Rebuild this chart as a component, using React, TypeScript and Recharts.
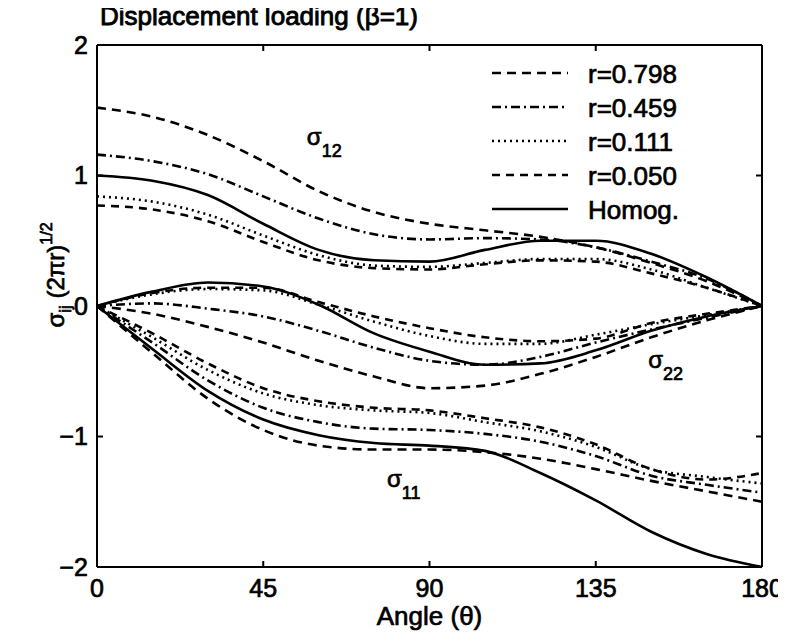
import { LineChart, Line, XAxis, YAxis, ReferenceDot, Legend } from "recharts";

// angle (deg) and sigma_ij * sqrt(2*pi*r)
const theta = [0, 15, 30, 45, 60, 75, 90, 105, 120, 135, 150, 165, 180];

const s12R798 = [1.52, 1.45, 1.31, 1.11, 0.88, 0.72, 0.63, 0.58, 0.53, 0.45, 0.33, 0.19, 0];
const s12R459 = [1.16, 1.11, 1.01, 0.84, 0.67, 0.55, 0.51, 0.52, 0.51, 0.45, 0.34, 0.21, 0];
const s12R111 = [0.84, 0.8, 0.7, 0.54, 0.39, 0.31, 0.3, 0.33, 0.36, 0.36, 0.28, 0.14, 0];
const s12R050 = [0.77, 0.74, 0.65, 0.49, 0.35, 0.29, 0.28, 0.32, 0.35, 0.34, 0.25, 0.14, 0];
const s12Hom = [1.0, 0.96, 0.85, 0.63, 0.43, 0.35, 0.34, 0.43, 0.5, 0.5, 0.4, 0.22, 0];

const s22R798 = [0, -0.06, -0.16, -0.28, -0.42, -0.54, -0.63, -0.61, -0.52, -0.39, -0.24, -0.11, 0];
const s22R459 = [0, 0.02, -0.02, -0.08, -0.19, -0.32, -0.42, -0.45, -0.39, -0.28, -0.18, -0.09, 0];
const s22R111 = [0, 0.09, 0.13, 0.12, 0.01, -0.12, -0.23, -0.29, -0.29, -0.22, -0.14, -0.07, 0];
const s22R050 = [0, 0.1, 0.14, 0.14, 0.03, -0.08, -0.17, -0.24, -0.27, -0.25, -0.13, -0.06, 0];
const s22Hom = [0, 0.11, 0.18, 0.15, 0.01, -0.21, -0.35, -0.45, -0.44, -0.34, -0.19, -0.08, 0];

const s11R798 = [0, -0.36, -0.71, -0.95, -1.07, -1.1, -1.1, -1.12, -1.17, -1.25, -1.34, -1.42, -1.5];
const s11R459 = [0, -0.28, -0.57, -0.78, -0.89, -0.94, -0.95, -0.98, -1.04, -1.15, -1.3, -1.37, -1.43];
const s11R111 = [0, -0.24, -0.49, -0.67, -0.76, -0.8, -0.82, -0.89, -0.96, -1.08, -1.25, -1.31, -1.36];
const s11R050 = [0, -0.21, -0.44, -0.63, -0.73, -0.78, -0.8, -0.86, -0.93, -1.06, -1.25, -1.33, -1.28];
const s11Hom = [0, -0.33, -0.65, -0.87, -0.99, -1.05, -1.07, -1.11, -1.28, -1.49, -1.73, -1.9, -2.0];

const caseNames = ["r=0.798", "r=0.459", "r=0.111", "r=0.050", "Homog."];
const xTicks = [0, 45, 90, 135, 180];
const yTicks = [-2, -1, 0, 1, 2];

const groups = [
  { id: "s12", values: [s12R798, s12R459, s12R111, s12R050, s12Hom] },
  { id: "s22", values: [s22R798, s22R459, s22R111, s22R050, s22Hom] },
  { id: "s11", values: [s11R798, s11R459, s11R111, s11R050, s11Hom] },
];

const dashes = ["9 6", "9 4 2 4", "2 4", "8 6", undefined];
const FONT = "'Liberation Sans', Arial, Helvetica, sans-serif";
const ink = { fill: "#000", stroke: "#000", strokeWidth: 0.7 };

const data = theta.map((t, i) => {
  const row: Record<string, number> = { theta: t };
  groups.forEach((g) => g.values.forEach((v, j) => (row[`${g.id}_${j}`] = v[i])));
  return row;
});

function SigmaTag({ viewBox, sub }: any) {
  if (!viewBox) return null;
  return (
    <text x={viewBox.x} y={viewBox.y} fontSize={24} {...ink}>
      σ
      <tspan dy={12} fontSize={18}>
        {sub}
      </tspan>
    </text>
  );
}

function LegendBox() {
  return (
    <svg width={220} height={170} style={{ fontFamily: FONT }}>
      {caseNames.map((name, i) => {
        const y = 15 + i * 34;
        return (
          <g key={name}>
            <line x1={0} x2={76} y1={y} y2={y} stroke="#000" strokeWidth={2.6} strokeDasharray={dashes[i]} />
            <text x={96} y={y + 10} fontSize={26} {...ink}>
              {name}
            </text>
          </g>
        );
      })}
    </svg>
  );
}

const minus = (v: number) => (v < 0 ? `−${Math.abs(v)}` : String(v));
const noTick = () => <g />;

export default function App() {
  return (
    <div style={{ width: 778, height: 634, marginTop: -8, fontFamily: FONT, position: "relative" }}>
      <LineChart width={778} height={634} data={data} margin={{ top: 44, right: 23, left: 29, bottom: 37 }}>
        <XAxis
          dataKey="theta"
          type="number"
          domain={[0, 180]}
          ticks={xTicks}
          height={30}
          stroke="#000"
          strokeWidth={2}
          tickSize={-6}
          tickMargin={18}
          tick={{ fontSize: 25, ...ink }}
          label={{
            content: (p: any) => (
              <text x={p.viewBox.x + p.viewBox.width / 2} y={625} textAnchor="middle" fontSize={26} {...ink}>
                Angle (θ)
              </text>
            ),
          }}
        />
        <XAxis
          xAxisId="top"
          dataKey="theta"
          orientation="top"
          type="number"
          domain={[0, 180]}
          ticks={xTicks}
          height={1}
          stroke="#000"
          strokeWidth={2}
          tickSize={-6}
          tick={noTick}
          label={{
            content: (p: any) => (
              <text
                x={p.viewBox.x + 3}
                y={25}
                fontSize={26}
                textLength={318}
                lengthAdjust="spacingAndGlyphs"
                {...ink}
                strokeWidth={0.9}
              >
                Displacement loading (β=1)
              </text>
            ),
          }}
        />
        <YAxis
          type="number"
          domain={[-2, 2]}
          ticks={yTicks}
          width={60}
          stroke="#000"
          strokeWidth={2}
          tickSize={-6}
          tickMargin={15}
          tickFormatter={minus}
          tick={{ fontSize: 25, ...ink }}
          label={{
            content: (p: any) => {
              const vb = p.viewBox;
              return (
                <text
                  transform={`translate(${vb.x + 27}, ${vb.y + vb.height / 2 - 31}) rotate(-90)`}
                  textAnchor="middle"
                  fontSize={24}
                  {...ink}
                >
                  σ
                  <tspan fontSize={17} dy={7}>
                    ij
                  </tspan>
                  <tspan dy={-7}> (2πr)</tspan>
                  <tspan fontSize={16} dy={-12}>
                    1/2
                  </tspan>
                </text>
              );
            },
          }}
        />
        <YAxis
          yAxisId="right"
          orientation="right"
          type="number"
          domain={[-2, 2]}
          ticks={yTicks}
          width={1}
          stroke="#000"
          strokeWidth={2}
          tickSize={-6}
          tick={noTick}
        />
        {groups.map((g) =>
          g.values.map((_, j) => (
            <Line
              key={`${g.id}_${j}`}
              dataKey={`${g.id}_${j}`}
              type="monotone"
              stroke="#000"
              strokeWidth={2.6}
              strokeDasharray={dashes[j]}
              dot={false}
              activeDot={false}
              legendType="none"
              isAnimationActive={false}
            />
          ))
        )}
        {/* binds the frame axes (top / right) so they get drawn */}
        <Line
          xAxisId="top"
          yAxisId="right"
          dataKey="s12_4"
          stroke="none"
          dot={false}
          activeDot={false}
          legendType="none"
          isAnimationActive={false}
        />
        <ReferenceDot x={56.8} y={1.23} r={0} fill="none" stroke="none" label={(p: any) => <SigmaTag viewBox={p.viewBox} sub="12" />} />
        <ReferenceDot x={149.2} y={-0.475} r={0} fill="none" stroke="none" label={(p: any) => <SigmaTag viewBox={p.viewBox} sub="22" />} />
        <ReferenceDot x={78.5} y={-1.387} r={0} fill="none" stroke="none" label={(p: any) => <SigmaTag viewBox={p.viewBox} sub="11" />} />
        <Legend
          layout="horizontal"
          verticalAlign="middle"
          align="center"
          content={LegendBox}
          wrapperStyle={{ top: 58, left: 484, width: 220, height: 170 }}
        />
      </LineChart>
    </div>
  );
}
